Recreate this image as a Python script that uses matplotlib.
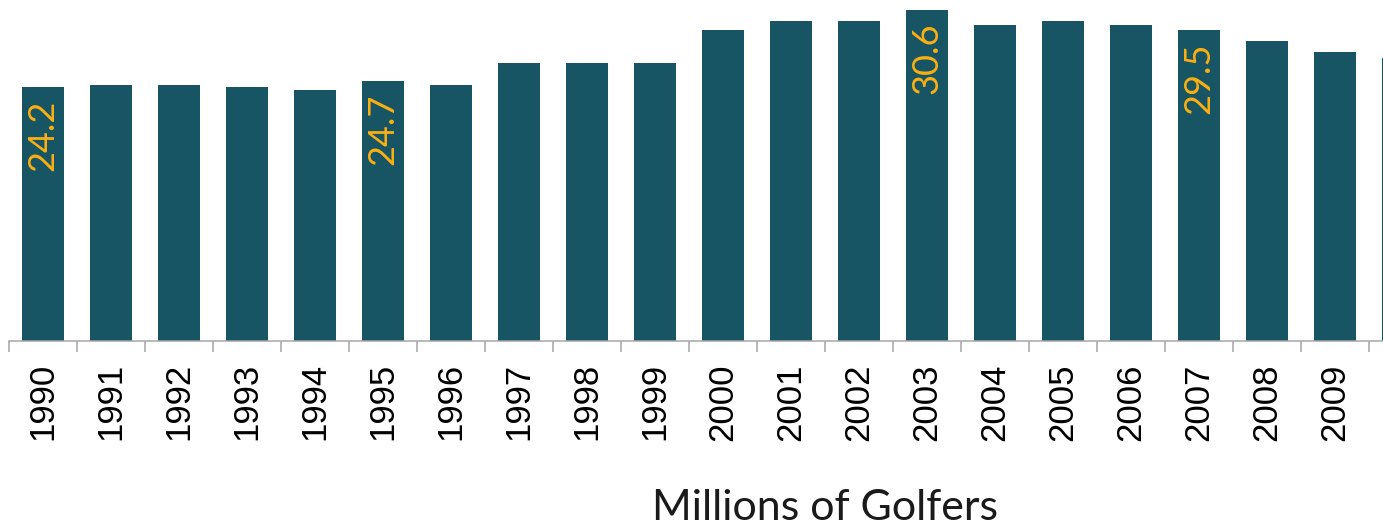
import matplotlib.pyplot as plt
import numpy as np

years = [str(y) for y in range(1990, 2011)]
# bar heights (2007 bar is drawn lower than its 29.5 label)
golfers = [24.2, 24.3, 24.3, 24.2, 23.9, 24.7, 24.3, 26.2, 26.2, 26.2,
           28.9, 29.7, 29.7, 30.6, 29.3, 29.7, 29.3, 28.9, 28.0, 27.1, 26.6]
labeled = {"1990": "24.2", "1995": "24.7", "2003": "30.6", "2007": "29.5"}

bar_color = "#175464"
label_color = "#FBB012"
axis_color = "#A6A6A6"

fig = plt.figure(figsize=(13.83, 5.29), dpi=100)
ax = fig.add_axes([9/1383, 1 - 341/529, 1 - 9/1383, 341/529])

x = np.arange(len(years))
ax.bar(x, golfers, width=0.63, color=bar_color, zorder=2)

for i, (yr, v) in enumerate(zip(years, golfers)):
    if yr in labeled:
        ax.text(i, v - 1.05, labeled[yr], rotation=90, ha="center", va="top",
                color=label_color, fontsize=26, family="Lato")

ax.set_xticks(x)
ax.set_xticklabels(years, rotation=90, fontsize=25, family="Liberation Sans")
ax.set_xticks(np.arange(-0.5, len(years), 1), minor=True)
ax.tick_params(axis="x", which="major", length=0, pad=16)
ax.tick_params(axis="x", which="minor", length=8, width=1.1, color=axis_color)
ax.set_yticks([])

ax.set_ylim(3, 31.42)
ax.set_xlim(-0.5, -0.5 + 1374/68)

for s in ["left", "top", "right"]:
    ax.spines[s].set_visible(False)
ax.spines["bottom"].set_color(axis_color)
ax.spines["bottom"].set_linewidth(1.1)

fig.text(825/1383, 1 - 508/529, "Millions of Golfers", ha="center", va="center",
         fontsize=31, family="Lato", color="#1a1a1a")

fig.savefig("out.png", dpi=100)
